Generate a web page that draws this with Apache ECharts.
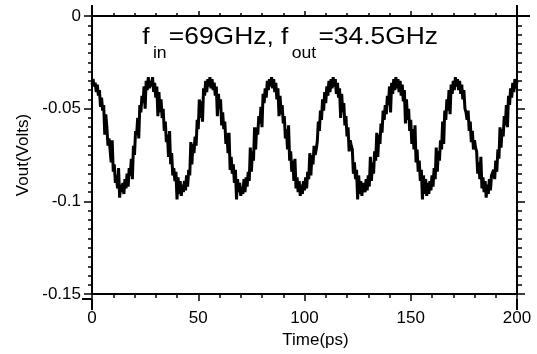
<!DOCTYPE html>
<html>
<head>
<meta charset="utf-8">
<script src="https://cdn.jsdelivr.net/npm/echarts@6/dist/echarts.min.js"></script>
<style>
html,body{margin:0;padding:0;background:#fff;}
#chart{width:537px;height:354px;}
</style>
</head>
<body>
<div id="chart"></div>
<script>
// Sample spacing of the recorded waveform (ps)
const timeStep = 0.5;
// Vout samples (Volts), one every 0.5 ps from 0 to 200 ps
const vout = [
-0.037,-0.034,-0.038,-0.036,-0.041,-0.037,-0.043,-0.040,-0.049,-0.044,
-0.051,-0.048,-0.064,-0.053,-0.060,-0.070,-0.066,-0.072,-0.079,-0.067,
-0.084,-0.080,-0.090,-0.086,-0.093,-0.082,-0.098,-0.091,-0.095,-0.090,
-0.096,-0.088,-0.093,-0.085,-0.092,-0.082,-0.086,-0.077,-0.088,-0.070,
-0.075,-0.062,-0.064,-0.055,-0.066,-0.048,-0.052,-0.043,-0.047,-0.038,
-0.050,-0.035,-0.040,-0.033,-0.039,-0.035,-0.038,-0.033,-0.041,-0.036,
-0.044,-0.038,-0.054,-0.041,-0.052,-0.045,-0.055,-0.050,-0.062,-0.057,
-0.068,-0.064,-0.076,-0.062,-0.080,-0.074,-0.086,-0.082,-0.089,-0.084,
-0.099,-0.087,-0.096,-0.089,-0.097,-0.091,-0.095,-0.089,-0.094,-0.086,
-0.092,-0.083,-0.086,-0.068,-0.080,-0.069,-0.074,-0.065,-0.070,-0.056,
-0.061,-0.045,-0.055,-0.046,-0.057,-0.039,-0.043,-0.035,-0.041,-0.034,
-0.038,-0.033,-0.039,-0.034,-0.040,-0.036,-0.043,-0.038,-0.054,-0.042,
-0.050,-0.045,-0.059,-0.052,-0.061,-0.057,-0.069,-0.063,-0.074,-0.063,
-0.083,-0.076,-0.085,-0.080,-0.090,-0.083,-0.099,-0.088,-0.095,-0.090,
-0.097,-0.092,-0.096,-0.088,-0.095,-0.087,-0.092,-0.084,-0.089,-0.071,
-0.084,-0.073,-0.078,-0.060,-0.072,-0.060,-0.064,-0.054,-0.058,-0.049,
-0.060,-0.042,-0.047,-0.039,-0.044,-0.035,-0.040,-0.034,-0.038,-0.033,
-0.039,-0.034,-0.041,-0.036,-0.045,-0.039,-0.054,-0.043,-0.053,-0.048,
-0.058,-0.054,-0.066,-0.061,-0.072,-0.059,-0.078,-0.073,-0.084,-0.078,
-0.089,-0.077,-0.093,-0.087,-0.095,-0.089,-0.097,-0.091,-0.096,-0.089,
-0.094,-0.087,-0.093,-0.084,-0.088,-0.074,-0.086,-0.075,-0.080,-0.070,
-0.075,-0.072,-0.068,-0.057,-0.062,-0.051,-0.056,-0.045,-0.051,-0.041,
-0.047,-0.038,-0.043,-0.035,-0.041,-0.034,-0.039,-0.033,-0.038,-0.034,
-0.042,-0.036,-0.044,-0.039,-0.055,-0.042,-0.052,-0.047,-0.059,-0.054,
-0.065,-0.060,-0.073,-0.067,-0.070,-0.072,-0.085,-0.079,-0.088,-0.083,
-0.099,-0.086,-0.096,-0.089,-0.097,-0.090,-0.090,-0.095,-0.088,-0.094,
-0.086,-0.092,-0.076,-0.089,-0.079,-0.085,-0.073,-0.078,-0.063,-0.076,
-0.064,-0.069,-0.058,-0.063,-0.051,-0.056,-0.048,-0.053,-0.043,-0.048,
-0.038,-0.052,-0.036,-0.042,-0.034,-0.040,-0.033,-0.039,-0.034,-0.041,
-0.035,-0.043,-0.037,-0.046,-0.040,-0.058,-0.045,-0.056,-0.050,-0.062,
-0.056,-0.069,-0.061,-0.072,-0.059,-0.079,-0.072,-0.084,-0.078,-0.089,
-0.083,-0.099,-0.086,-0.096,-0.088,-0.097,-0.090,-0.096,-0.089,-0.094,
-0.086,-0.092,-0.082,-0.088,-0.071,-0.084,-0.073,-0.078,-0.067,-0.072,
-0.057,-0.069,-0.051,-0.056,-0.045,-0.051,-0.040,-0.053,-0.037,-0.042,
-0.035,-0.040,-0.033,-0.038,-0.034,-0.040,-0.035,-0.042,-0.037,-0.045,
-0.040,-0.050,-0.052,-0.056,-0.051,-0.062,-0.057,-0.068,-0.062,-0.072,
-0.067,-0.071,-0.073,-0.085,-0.079,-0.088,-0.076,-0.093,-0.087,-0.095,
-0.089,-0.098,-0.091,-0.096,-0.088,-0.094,-0.086,-0.085,-0.083,-0.088,
-0.078,-0.084,-0.072,-0.077,-0.060,-0.071,-0.061,-0.065,-0.054,-0.059,
-0.048,-0.060,-0.043,-0.048,-0.039,-0.044,-0.036,-0.041,-0.034,-0.039,
-0.035
];
// Axis settings
const xMin = 0, xMax = 200, xInterval = 50;
const yMin = -0.15, yMax = 0, yInterval = 0.05;
const xName = 'Time(ps)';
const yName = 'Vout(Volts)';
// Annotation text parts
const annotParts = [['f','m'],['in','s'],['=69GHz, f','m'],['out','s'],['=34.5GHz','m']];

const points = vout.map((v, i) => [i * timeStep, v]);

const FONT = 'Liberation Sans, Arial, sans-serif';
const axisLineStyle = {color:'#000', width:2};
const tickStyle = {color:'#000', width:1.5};

const chart = echarts.init(document.getElementById('chart'), null, {renderer:'canvas'});
const option = {
  animation:false,
  backgroundColor:'#fff',
  grid:{left:92, right:20, top:16, bottom:55, containLabel:false},
  xAxis:[
    {type:'value', position:'bottom', min:xMin, max:xMax, interval:xInterval,
     name:xName, nameLocation:'middle', nameGap:30,
     nameTextStyle:{fontFamily:FONT, fontSize:17, color:'#000', padding:[0,0,0,22]},
     axisLine:{show:true, onZero:false, lineStyle:axisLineStyle},
     axisTick:{show:true, inside:false, length:7, lineStyle:tickStyle},
     minorTick:{show:true, splitNumber:5, length:4, lineStyle:tickStyle},
     axisLabel:{fontFamily:FONT, fontSize:17, color:'#000', margin:16},
     splitLine:{show:false}},
    {type:'value', position:'top', min:xMin, max:xMax, interval:xInterval,
     axisLine:{show:true, onZero:false, lineStyle:axisLineStyle},
     axisTick:{show:true, inside:false, length:5, lineStyle:tickStyle},
     minorTick:{show:true, splitNumber:5, length:3, lineStyle:tickStyle},
     axisLabel:{show:false}, splitLine:{show:false}}
  ],
  yAxis:[
    {type:'value', position:'left', min:yMin, max:yMax, interval:yInterval,
     name:yName, nameLocation:'middle', nameGap:60,
     nameTextStyle:{fontFamily:FONT, fontSize:17, color:'#000'},
     axisLine:{show:true, onZero:false, lineStyle:axisLineStyle},
     axisTick:{show:true, inside:false, length:8, lineStyle:tickStyle},
     minorTick:{show:true, splitNumber:10, length:4, lineStyle:tickStyle},
     axisLabel:{fontFamily:FONT, fontSize:17, color:'#000', margin:11},
     splitLine:{show:false}},
    {type:'value', position:'right', min:yMin, max:yMax, interval:yInterval,
     axisLine:{show:true, onZero:false, lineStyle:axisLineStyle},
     axisTick:{show:true, inside:false, length:8, lineStyle:tickStyle},
     minorTick:{show:true, splitNumber:10, length:5, lineStyle:tickStyle},
     axisLabel:{show:false}, splitLine:{show:false}}
  ],
  graphic:[
    {type:'line', shape:{x1:92, y1:5, x2:92, y2:16}, style:{stroke:'#000', lineWidth:2}},
    {type:'line', shape:{x1:92, y1:299, x2:92, y2:310}, style:{stroke:'#000', lineWidth:2}},
    {type:'line', shape:{x1:82, y1:299, x2:92, y2:299}, style:{stroke:'#000', lineWidth:2}},
    {type:'line', shape:{x1:517, y1:5, x2:517, y2:16}, style:{stroke:'#000', lineWidth:2}},
    {type:'line', shape:{x1:517, y1:299, x2:517, y2:310}, style:{stroke:'#000', lineWidth:2}},
    {type:'line', shape:{x1:517, y1:16, x2:530, y2:16}, style:{stroke:'#000', lineWidth:2}},
    {type:'text', x:142, y:25, scaleX:1.1, z:10,
     style:{
       text: '{sp| }' + annotParts.map(p => '{' + p[1] + '|' + p[0] + '}').join(''),
       rich:{
         sp:{fontFamily:FONT, fontSize:1, lineHeight:37, verticalAlign:'top'},
         m:{fontFamily:FONT, fontSize:24, fill:'#000', lineHeight:24, verticalAlign:'top'},
         s:{fontFamily:FONT, fontSize:16, fill:'#000', lineHeight:16, verticalAlign:'bottom', padding:[0,2,0,3]}
       }
     }}
  ],
  series:[{
    type:'line', xAxisIndex:0, yAxisIndex:0,
    data:points, showSymbol:false, symbol:'none', sampling:null,
    lineStyle:{color:'#000', width:3}, clip:true
  }]
};
chart.setOption(option);
</script>
</body>
</html>
